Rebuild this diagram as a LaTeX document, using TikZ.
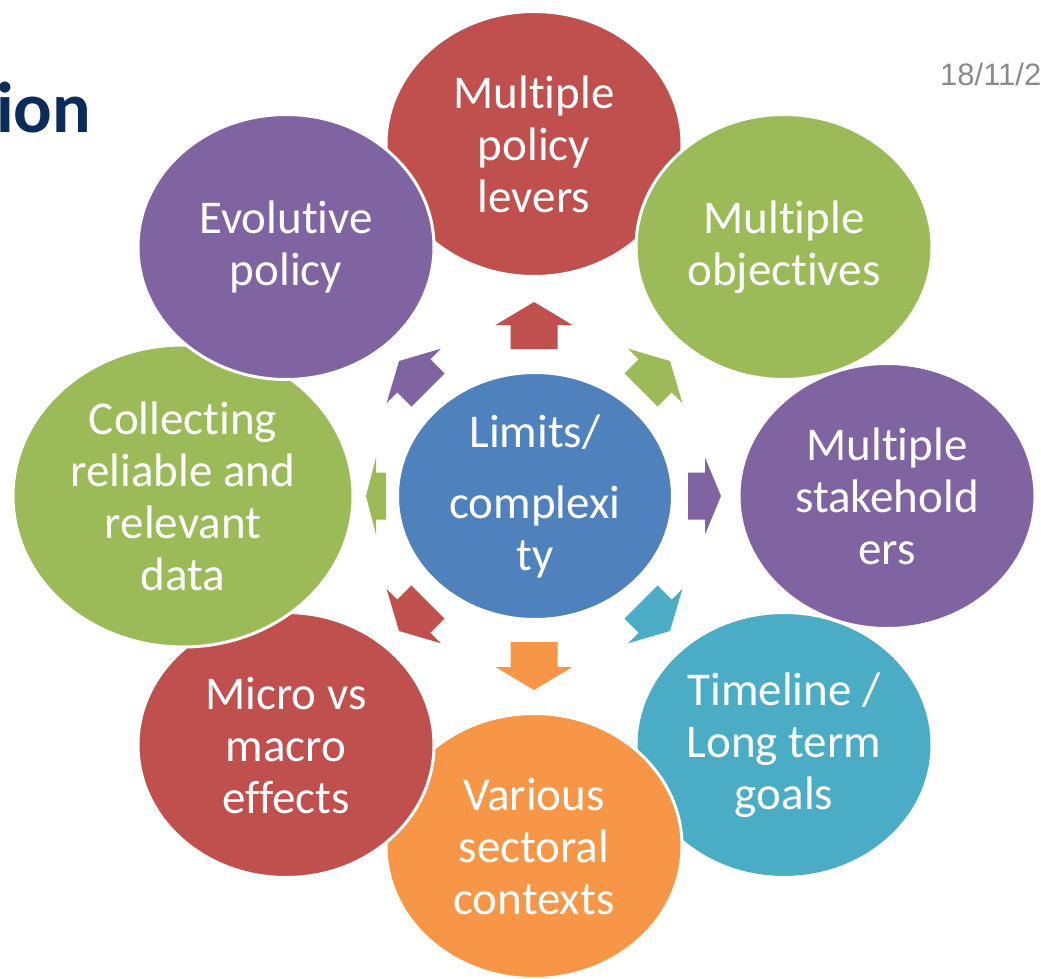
\documentclass[tikz,border=0pt]{standalone}
\usepackage{fontspec}
\setmainfont{Carlito}[Ligatures=NoCommon]
\newfontfamily\datefont{Liberation Sans}
\usetikzlibrary{shapes.geometric}
\definecolor{cred}{HTML}{C0504D}
\definecolor{cgreen}{HTML}{9BBB59}
\definecolor{cpurple}{HTML}{8064A2}
\definecolor{cteal}{HTML}{4BACC6}
\definecolor{corange}{HTML}{F79646}
\definecolor{cblue}{HTML}{4F81BD}
\definecolor{cnavy}{HTML}{0C2B59}
\definecolor{cgray}{HTML}{8A8A8A}
\newcommand{\blockarrow}[5]{%
  \fill[#1,shift={#2},rotate=#3] (0,-23.5) -- ({#4-#5},-23.5) -- ({#4-#5},-38.5) -- (#4,0) -- ({#4-#5},38.5) -- ({#4-#5},23.5) -- (0,23.5) -- cycle;}
\begin{document}
\begin{tikzpicture}[x=1pt,y=-1pt,
  bubble/.style={ellipse, inner sep=0pt, minimum width=296pt, minimum height=265pt,
    draw=white, line width=3pt, text=white, align=center,
    font=\fontsize{47}{52}\selectfont},
  bigbubble/.style={bubble, minimum width=340pt, minimum height=302pt},
  hubstyle/.style={bubble, minimum width=275pt, minimum height=247pt, fill=cblue}]
\useasboundingbox (0,0) rectangle (1041,979);
\clip (0,0) rectangle (1041,979);
% title fragment and date
\node[anchor=base west, inner sep=0pt, text=cnavy, font=\fontsize{72}{80}\selectfont\bfseries] (title) at (-4,132) {ion};
\node[anchor=base west, inner sep=0pt, text=cgray, font=\datefont\fontsize{31}{34}\selectfont] (date) at (940,86) {18/11/2};
% arrows
\blockarrow{cred}{(534,349)}{90}{47}{23}
\blockarrow{corange}{(534,642)}{-90}{48}{23}
\blockarrow{cpurple}{(688,496)}{0}{33}{16}
\blockarrow{cgreen}{(386,496)}{180}{20}{10}
\blockarrow{cgreen}{(641,390)}{45}{41}{21}
\blockarrow{cpurple}{(428,390)}{135}{41}{21}
\blockarrow{cred}{(428,602)}{-135}{41}{21}
\blockarrow{cteal}{(641,602)}{-45}{41}{21}
% centre
\node[hubstyle] (hub) at (535,496) {Limits/\\[19pt]complexi\\ty};
% outer bubbles, clockwise
\node[bubble, fill=cred] (levers) at (534,144) {Multiple\\policy\\levers};
\node[bubble, fill=cgreen] (objectives) at (784,247) {Multiple\\objectives};
\node[bubble, fill=cpurple] (stake) at (887,496) {Multiple\\stakehold\\ers};
\node[bubble, fill=cteal] (timeline) at (784,745) {Timeline /\\Long term\\goals};
\node[bubble, fill=corange] (sector) at (534,846) {Various\\sectoral\\contexts};
\node[bubble, fill=cred] (micro) at (286,745) {Micro vs\\macro\\effects};
\node[bigbubble, fill=cgreen] (data) at (183,496) {Collecting\\reliable and\\relevant\\data};
\node[bubble, fill=cpurple] (evol) at (286,247) {Evolutive\\policy};
\end{tikzpicture}
\end{document}
